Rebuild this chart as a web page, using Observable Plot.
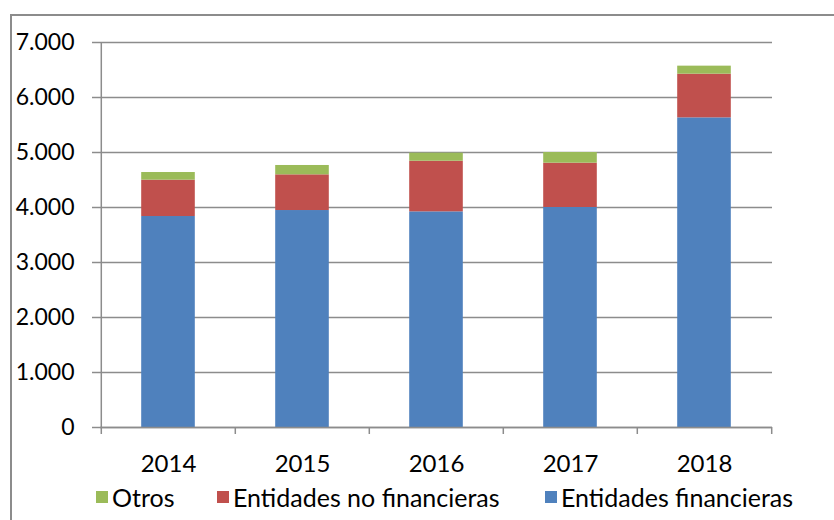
<!DOCTYPE html>
<html>
<head>
<meta charset="utf-8">
<script src="https://cdn.jsdelivr.net/npm/d3@7"></script>
<script src="https://cdn.jsdelivr.net/npm/@observablehq/plot@0.6"></script>
<style>
  html, body { margin: 0; padding: 0; background: #fff; overflow: hidden; }
  body { width: 834px; height: 520px; position: relative; font-family: Lato, "Open Sans", sans-serif; }
  #frame { position: absolute; left: 10px; top: 14px; width: 900px; height: 600px;
           border-left: 2px solid #8c8c8c; border-top: 2px solid #8c8c8c; box-sizing: border-box; }
  #chart { position: absolute; left: 0; top: 0; }
  #legend { position: absolute; left: 0; top: 479px; width: 834px; height: 36px; font-size: 25px; color: #000; }
  .item { position: absolute; top: 0; height: 36px; display: flex; align-items: center; white-space: nowrap; }
  .sw { width: 12px; height: 12px; margin-right: 4px; display: inline-block; }
</style>
</head>
<body>
<div id="frame"></div>
<div id="chart"></div>
<div id="legend"></div>
<script>
const years = ["2014", "2015", "2016", "2017", "2018"];
const financieras = [3836, 3945, 3921, 4000, 5630];
const noFinancieras = [661, 649, 921, 806, 794];
const otros = [139, 170, 146, 194, 146];
const yTicks = [0, 1000, 2000, 3000, 4000, 5000, 6000, 7000];
const seriesNames = ["Entidades financieras", "Entidades no financieras", "Otros"];
const seriesColors = ["#4F81BD", "#C0504D", "#9BBB59"];
const legendOrder = ["Otros", "Entidades no financieras", "Entidades financieras"];

const seriesValues = [financieras, noFinancieras, otros];
const rows = [];
seriesNames.forEach((s, si) => years.forEach((y, i) => rows.push({year: y, serie: s, value: seriesValues[si][i]})));

const fmt = d3.formatLocale({decimal: ",", thousands: ".", grouping: [3]}).format(",");
const W = 834, H = 480;
const bandStep = (W - 100 - 62) / years.length;
const gray = "#8c8c8c";

const plot = Plot.plot({
  width: W,
  height: H,
  marginLeft: 100,
  marginRight: 62,
  marginTop: 42,
  marginBottom: H - 427,
  style: {background: "none", fontFamily: "Lato, 'Open Sans', sans-serif", fontSize: "23px", color: "#000", overflow: "visible"},
  x: {domain: years, padding: 0, label: null},
  y: {domain: [0, 7000], label: null},
  color: {domain: seriesNames, range: seriesColors},
  marks: [
    Plot.gridY(yTicks, {stroke: gray, strokeOpacity: 1, strokeWidth: 1.5}),
    Plot.barY(rows, {x: "year", y: "value", fill: "serie", order: seriesNames, insetLeft: (bandStep - 54) / 2, insetRight: (bandStep - 54) / 2}),
    Plot.axisY(yTicks, {tickSize: 8, tickPadding: 18, tickFormat: d => fmt(d), stroke: gray, strokeWidth: 1.5, fill: "#000", fontSize: 23}),
    Plot.ruleX([years[0]], {dx: -bandStep / 2, y1: 0, y2: 7000, stroke: gray, strokeWidth: 1.5}),
    Plot.ruleX(years, {dx: -bandStep / 2, y1: 0, y2: -127, stroke: gray, strokeWidth: 1.5}),
    Plot.ruleX([years[years.length - 1]], {dx: bandStep / 2, y1: 0, y2: -127, stroke: gray, strokeWidth: 1.5}),
    Plot.axisX({tickSize: 0, tickPadding: 27, fill: "#000", fontSize: 24}),
    Plot.ruleY([0], {stroke: gray, strokeWidth: 1.5})
  ]
});
document.getElementById("chart").appendChild(plot);

const legendX = [96, 217, 545];
const legend = document.getElementById("legend");
legendOrder.forEach((name, i) => {
  const it = document.createElement("div");
  it.className = "item";
  it.style.left = legendX[i] + "px";
  const sw = document.createElement("span");
  sw.className = "sw";
  sw.style.background = seriesColors[seriesNames.indexOf(name)];
  const t = document.createElement("span");
  t.textContent = name;
  it.appendChild(sw);
  it.appendChild(t);
  legend.appendChild(it);
});
</script>
</body>
</html>
